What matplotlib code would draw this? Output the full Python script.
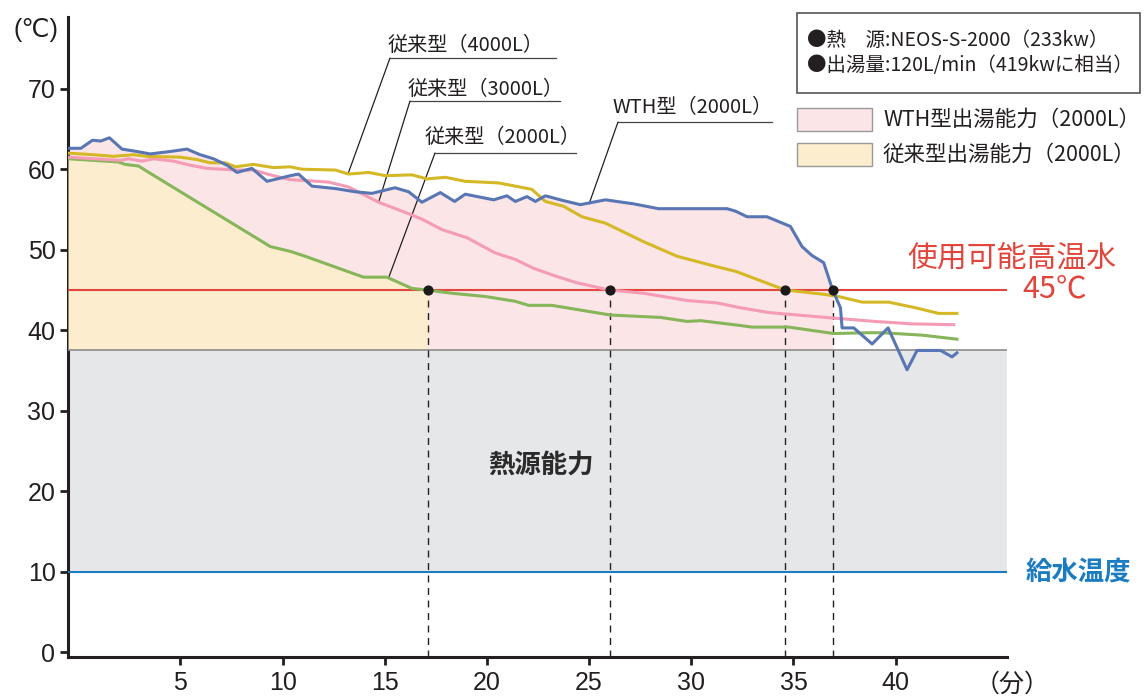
import matplotlib
matplotlib.use("Agg")
import matplotlib.pyplot as plt
from matplotlib.lines import Line2D
from matplotlib.patches import Rectangle
import numpy as np

plt.rcParams['font.family'] = ['Noto Sans CJK JP', 'DejaVu Sans']

# ---------------- data ----------------
wth_t = [-0.5, 0.13, 0.7, 1.1, 1.53, 2.14, 2.87, 3.52, 4.5, 5.32, 5.97, 6.62, 7.28, 7.77, 8.5,
         9.24, 9.9, 10.38, 10.78, 11.44, 12.58, 13.56, 14.37, 15.5, 16.17, 16.82, 17.72, 18.42,
         18.94, 20.33, 20.98, 21.39, 21.96, 22.37, 22.86, 23.75, 24.57, 25.8, 27.18, 28.4, 31.75,
         32.16, 32.73, 33.7, 34.85, 35.42, 35.9, 36.48, 36.92, 37.3, 37.38, 37.95, 38.85, 39.63,
         40.56, 41.05, 42.2, 42.76, 43.0]
wth_T = [62.6, 62.6, 63.6, 63.5, 63.9, 62.5, 62.2, 61.9, 62.2, 62.5, 61.8, 61.3, 60.5, 59.6, 60.1,
         58.5, 58.9, 59.2, 59.4, 57.9, 57.6, 57.2, 57.0, 57.7, 57.2, 55.9, 57.1, 56.0,
         56.9, 56.2, 56.7, 56.0, 56.6, 56.0, 56.7, 56.1, 55.6, 56.2, 55.7, 55.1, 55.1,
         54.8, 54.1, 54.1, 52.9, 50.4, 49.3, 48.4, 45.0, 42.8, 40.3, 40.3, 38.3, 40.3,
         35.1, 37.5, 37.5, 36.7, 37.2]

c4000_t = [-0.5, 0.75, 1.73, 2.7, 3.36, 4.99, 5.8, 6.46, 7.2, 7.7, 8.58, 9.56, 10.38, 10.95, 12.58,
           13.23, 14.21, 15.03, 16.33, 17.07, 17.97, 18.94, 20.57, 21.39, 22.2, 22.86, 23.75,
           24.65, 25.8, 27.67, 29.3, 30.93, 32.2, 34.6, 36.4, 37.2, 38.36, 39.66, 40.97, 42.1, 43.0]
c4000_T = [62.0, 61.8, 61.6, 61.8, 61.6, 61.5, 61.2, 60.8, 60.8, 60.3, 60.6, 60.2, 60.3, 60.0, 59.9,
           59.4, 59.6, 59.2, 59.3, 58.8, 59.0, 58.5, 58.3, 57.9, 57.5, 56.0, 55.4,
           54.1, 53.3, 51.0, 49.2, 48.1, 47.3, 45.0, 44.5, 44.2, 43.5, 43.5, 42.8, 42.1, 42.1]

c3000_t = [-0.5, 0.75, 2.06, 2.46, 3.12, 3.69, 4.67, 5.48, 6.3, 7.77, 8.58, 9.4, 10.38, 11.1, 12.25,
           13.23, 14.7, 16.25, 16.82, 17.8, 19.02, 20.41, 21.39, 22.28, 23.4, 24.4, 26.0, 27.67,
           29.8, 31.26, 32.4, 33.8, 37.05, 39.0, 40.8, 42.85]
c3000_T = [61.5, 61.3, 61.1, 61.3, 61.0, 61.3, 61.0, 60.5, 60.1, 59.9, 59.9, 59.3, 58.7, 58.6, 58.4,
           57.8, 55.9, 54.4, 53.8, 52.5, 51.5, 49.6, 48.8, 47.7, 46.7, 45.9, 45.0, 44.6,
           43.7, 43.4, 42.8, 42.2, 41.5, 41.1, 40.8, 40.7]

c2000_t = [-0.5, 0.75, 1.97, 2.3, 2.95, 3.52, 9.4, 10.38, 11.1, 13.96, 15.1, 16.33, 17.1, 18.29,
           19.92, 21.39, 22.04, 23.18, 26.04, 28.5, 29.8, 30.45, 32.4, 32.97, 34.77, 36.97, 38.7,
           39.34, 41.3, 43.0]
c2000_T = [61.3, 61.1, 60.9, 60.6, 60.4, 59.5, 50.4, 49.8, 49.2, 46.6, 46.6, 45.2, 45.0, 44.6,
           44.2, 43.6, 43.1, 43.1, 41.9, 41.6, 41.1, 41.2, 40.6, 40.4, 40.4, 39.6, 39.7,
           39.7, 39.4, 38.9]

usable_temp = 45          # 使用可能高温水
supply_temp = 10          # 給水温度
source_temp = 37.6        # 熱源能力 upper bound
cross_times = [17.1, 26.0, 34.6, 36.92]   # times each curve reaches 45℃
wth_end = 36.92
conv_end = 17.1

x_ticks = [5, 10, 15, 20, 25, 30, 35, 40]
y_ticks = [0, 10, 20, 30, 40, 50, 60, 70]

# ---------------- colours ----------------
C_WTH = '#5876b3'
C_4000 = '#d5b826'
C_3000 = '#f59bb5'
C_2000 = '#86b55a'
C_RED = '#e2453b'
C_BLUE = '#1b7cc2'
C_GRAY = '#e6e7e9'
C_PINK = '#fbe5e6'
C_YEL = '#fdedcf'

W, H = 1146, 698
fig = plt.figure(figsize=(W / 100, H / 100), dpi=100)


def fx(x):
    return x / W


def fy(y):
    return 1 - y / H


ax = fig.add_axes([fx(68), fy(657), (1007 - 68) / W, (657 - 17) / H])
xmin, xmax = -0.5, 45.45
ax.set_xlim(xmin, xmax)
ax.set_ylim(-0.56, 78.9)

# fills
ax.fill_between([xmin, xmax], supply_temp, source_temp, color=C_GRAY, lw=0, zorder=1)
wt = np.array(wth_t)
wT = np.array(wth_T)
ax.fill_between(wt, source_temp, wT, where=wt <= wth_end, color=C_PINK, lw=0, zorder=2)
gt = np.array(c2000_t)
gT = np.array(c2000_T)
ax.fill_between(gt, source_temp, gT, where=gt <= conv_end, color=C_YEL, lw=0, zorder=3)

ax.axhline(source_temp, color='#8c8c8c', lw=1.2, zorder=4)
ax.axhline(supply_temp, color=C_BLUE, lw=1.5, zorder=4)
ax.axhline(usable_temp, color=C_RED, lw=1.5, zorder=4)

# curves
lw = 2.2
ax.plot(c2000_t, c2000_T, color=C_2000, lw=lw, zorder=6, solid_joinstyle='round')
ax.plot(c3000_t, c3000_T, color=C_3000, lw=lw, zorder=6, solid_joinstyle='round')
ax.plot(c4000_t, c4000_T, color=C_4000, lw=lw, zorder=6, solid_joinstyle='round')
ax.plot(wth_t, wth_T, color=C_WTH, lw=lw, zorder=7, solid_joinstyle='round')

for t in cross_times:
    ax.plot([t, t], [-0.56, usable_temp], color='#222222', lw=1.0, ls=(0, (5, 4)), zorder=5)
ax.scatter(cross_times, [usable_temp] * len(cross_times), s=40, color='#1a1a1a', zorder=9)

# axes styling
for s in ['top', 'right']:
    ax.spines[s].set_visible(False)
ax.spines['left'].set_linewidth(2.2)
ax.spines['bottom'].set_linewidth(2.2)
ax.spines['left'].set_color('#231f20')
ax.spines['bottom'].set_color('#231f20')
ax.set_xticks(x_ticks)
ax.set_yticks(y_ticks)
ax.tick_params(axis='both', direction='out', length=6, width=2, color='#231f20',
               labelsize=18, labelcolor='#231f20')
ax.tick_params(axis='x', pad=4)
ax.tick_params(axis='y', pad=3)
for lab in ax.get_xticklabels() + ax.get_yticklabels():
    lab.set_fontfamily('Liberation Sans')
ax.set_axisbelow(False)

# unit labels
fig.text(fx(36), fy(30), '(℃)', fontsize=18, ha='center', va='center', color='#231f20',
         family=['Liberation Sans', 'DejaVu Sans'])
fig.text(fx(1012), fy(685), '（分）', fontsize=18, ha='center', va='center', color='#231f20')

# annotations for curves
def label(text, tx, ty, ul_x0, ul_x1, ul_y, target):
    fig.text(fx(tx), fy(ty), text, fontsize=14.5, ha='center', va='center', color='#231f20')
    fig.add_artist(Line2D([fx(ul_x0), fx(ul_x1)], [fy(ul_y), fy(ul_y)], color='#444444', lw=0.9))
    ax.annotate('', xy=target, xycoords='data',
                xytext=(fx(ul_x0), fy(ul_y)), textcoords='figure fraction',
                arrowprops=dict(arrowstyle='-', color='#231f20', lw=0.9, shrinkA=0, shrinkB=0))


label('従来型（4000L）', 466, 45, 390, 556, 58, (13.2, 59.4))
label('従来型（3000L）', 486, 89, 410, 560, 101, (14.7, 55.9))
label('従来型（2000L）', 503, 137, 435, 576, 153, (15.2, 46.6))
label('WTH型（2000L）', 693, 108, 618, 772, 122, (25.0, 55.7))

# right side labels
fig.text(fx(1117), fy(258), '使用可能高温水', fontsize=21.5, ha='right', va='center', color=C_RED)
fig.text(fx(1055), fy(289), '45℃', fontsize=22, ha='center', va='center', color=C_RED)
fig.text(fx(1131), fy(572), '給水温度', fontsize=19, ha='right', va='center', color=C_BLUE,
         fontweight='bold')
fig.text(fx(541), fy(465), '熱源能力', fontsize=19, ha='center', va='center', color='#2b2b2b',
         fontweight='bold')

# info box
fig.add_artist(Rectangle((fx(797), fy(93)), (1140 - 797) / W, (93 - 13) / H,
                         transform=fig.transFigure, fill=False, edgecolor='#555555', lw=1.2))
fig.text(fx(807), fy(40), '●熱　源:NEOS-S-2000（233kw）', fontsize=14, ha='left', va='center',
         color='#231f20')
fig.text(fx(807), fy(66), '●出湯量:120L/min（419kwに相当）', fontsize=14, ha='left', va='center',
         color='#231f20')

# legend patches
fig.add_artist(Rectangle((fx(797), fy(131)), 75 / W, 23 / H, transform=fig.transFigure,
                         facecolor=C_PINK, edgecolor='#999999', lw=1))
fig.add_artist(Rectangle((fx(797), fy(166)), 75 / W, 23 / H, transform=fig.transFigure,
                         facecolor=C_YEL, edgecolor='#999999', lw=1))
fig.text(fx(883), fy(120), 'WTH型出湯能力（2000L）', fontsize=15.5, ha='left', va='center',
         color='#231f20')
fig.text(fx(883), fy(155), '従来型出湯能力（2000L）', fontsize=15.5, ha='left', va='center',
         color='#231f20')

fig.savefig('out.png', dpi=100)
